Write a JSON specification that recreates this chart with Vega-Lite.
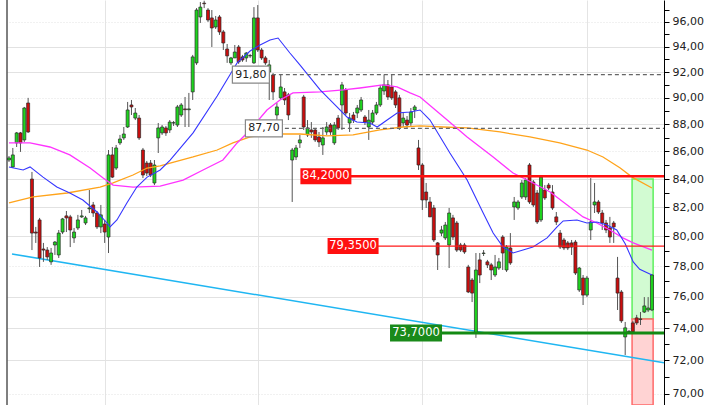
{
  "$schema": "https://vega.github.io/schema/vega-lite/v6.json",
  "width": 657,
  "height": 405,
  "autosize": {"type": "none"},
  "padding": {"left": 7, "top": 0, "right": 56, "bottom": 0},
  "background": "white",
  "config": {"view": {"stroke": null}, "font": "DejaVu Sans", "axis": {"titleOpacity": 0}},
  "datasets": {
    "candles": [
      {"i":1,"o":85.37,"h":85.66,"l":85.23,"c":85.52},
      {"i":2,"o":84.87,"h":86.25,"l":84.79,"c":85.74},
      {"i":3,"o":86.62,"h":87.43,"l":86.32,"c":87.36},
      {"i":4,"o":87.36,"h":87.43,"l":85.96,"c":86.62},
      {"i":5,"o":86.84,"h":89.31,"l":86.69,"c":89.23},
      {"i":6,"o":89.61,"h":90.00,"l":87.36,"c":87.43},
      {"i":7,"o":84.00,"h":84.51,"l":79.08,"c":80.23},
      {"i":8,"o":80.30,"h":80.65,"l":79.56,"c":80.23},
      {"i":9,"o":81.13,"h":81.27,"l":77.95,"c":78.55},
      {"i":10,"o":79.15,"h":79.56,"l":78.29,"c":79.08},
      {"i":11,"o":79.08,"h":79.28,"l":78.42,"c":78.62},
      {"i":12,"o":78.29,"h":79.22,"l":78.09,"c":78.88},
      {"i":13,"o":79.42,"h":79.69,"l":78.75,"c":79.62},
      {"i":14,"o":78.75,"h":80.44,"l":78.55,"c":80.23},
      {"i":15,"o":80.30,"h":81.27,"l":80.16,"c":81.20},
      {"i":16,"o":81.41,"h":81.75,"l":80.30,"c":81.27},
      {"i":17,"o":81.34,"h":81.48,"l":79.28,"c":80.44},
      {"i":18,"o":79.90,"h":80.58,"l":79.56,"c":80.30},
      {"i":19,"o":80.58,"h":81.48,"l":80.44,"c":81.13},
      {"i":20,"o":81.34,"h":81.82,"l":81.27,"c":81.41},
      {"i":21,"o":80.92,"h":81.41,"l":80.78,"c":81.27},
      {"i":22,"o":81.90,"h":83.22,"l":81.61,"c":81.96},
      {"i":23,"o":82.17,"h":82.38,"l":81.34,"c":81.61},
      {"i":24,"o":81.61,"h":81.75,"l":80.51,"c":80.65},
      {"i":25,"o":80.65,"h":82.17,"l":80.23,"c":81.48},
      {"i":26,"o":80.85,"h":81.13,"l":79.56,"c":80.30},
      {"i":27,"o":79.96,"h":86.10,"l":78.88,"c":85.74},
      {"i":28,"o":85.74,"h":86.32,"l":84.07,"c":84.14},
      {"i":29,"o":84.79,"h":86.47,"l":84.65,"c":86.25},
      {"i":30,"o":86.62,"h":87.21,"l":86.47,"c":86.91},
      {"i":31,"o":86.99,"h":87.80,"l":86.84,"c":87.28},
      {"i":32,"o":87.80,"h":89.69,"l":87.73,"c":89.08},
      {"i":33,"o":89.46,"h":89.84,"l":88.70,"c":89.31},
      {"i":34,"o":88.47,"h":89.23,"l":88.32,"c":88.85},
      {"i":35,"o":88.47,"h":88.70,"l":86.84,"c":86.99},
      {"i":36,"o":86.10,"h":86.25,"l":84.07,"c":84.29},
      {"i":37,"o":85.15,"h":85.30,"l":84.22,"c":84.43},
      {"i":38,"o":85.15,"h":85.37,"l":84.14,"c":84.29},
      {"i":39,"o":83.72,"h":85.37,"l":83.57,"c":85.01},
      {"i":40,"o":86.99,"h":88.10,"l":85.88,"c":87.73},
      {"i":41,"o":87.36,"h":87.95,"l":87.21,"c":87.80},
      {"i":42,"o":87.73,"h":87.88,"l":87.14,"c":87.36},
      {"i":43,"o":87.58,"h":88.32,"l":87.36,"c":88.17},
      {"i":44,"o":88.10,"h":88.25,"l":87.88,"c":88.12},
      {"i":45,"o":87.95,"h":89.46,"l":87.80,"c":89.31},
      {"i":46,"o":88.70,"h":89.61,"l":88.55,"c":89.46},
      {"i":47,"o":89.16,"h":90.07,"l":87.80,"c":89.10},
      {"i":48,"o":89.10,"h":90.38,"l":87.80,"c":89.16},
      {"i":49,"o":90.46,"h":93.35,"l":89.84,"c":93.19},
      {"i":50,"o":92.72,"h":97.14,"l":92.56,"c":96.98},
      {"i":51,"o":96.41,"h":97.64,"l":95.92,"c":97.22},
      {"i":52,"o":97.55,"h":97.75,"l":97.14,"c":97.50},
      {"i":53,"o":96.98,"h":97.14,"l":96.00,"c":96.16},
      {"i":54,"o":96.33,"h":96.98,"l":93.98,"c":95.51},
      {"i":55,"o":95.59,"h":96.49,"l":95.43,"c":96.16},
      {"i":56,"o":96.41,"h":96.57,"l":94.95,"c":95.19},
      {"i":57,"o":95.19,"h":95.35,"l":93.74,"c":94.30},
      {"i":58,"o":93.82,"h":94.22,"l":92.72,"c":93.27},
      {"i":59,"o":92.72,"h":93.19,"l":92.56,"c":93.11},
      {"i":60,"o":93.11,"h":94.14,"l":93.11,"c":93.58},
      {"i":61,"o":93.98,"h":94.14,"l":92.64,"c":92.80},
      {"i":62,"o":93.19,"h":93.35,"l":92.80,"c":92.95},
      {"i":63,"o":93.11,"h":93.58,"l":92.80,"c":93.50},
      {"i":64,"o":93.27,"h":93.43,"l":93.11,"c":93.30},
      {"i":65,"o":92.72,"h":97.22,"l":92.64,"c":96.33},
      {"i":66,"o":96.33,"h":97.39,"l":93.58,"c":93.74},
      {"i":67,"o":93.74,"h":93.90,"l":92.95,"c":93.11},
      {"i":68,"o":93.11,"h":93.27,"l":92.56,"c":92.72},
      {"i":69,"o":92.00,"h":92.95,"l":89.84,"c":92.56},
      {"i":70,"o":91.77,"h":91.92,"l":89.84,"c":90.46},
      {"i":71,"o":88.70,"h":89.61,"l":88.32,"c":89.31},
      {"i":72,"o":90.00,"h":91.80,"l":89.84,"c":90.84},
      {"i":73,"o":90.46,"h":90.76,"l":89.46,"c":89.84},
      {"i":74,"o":90.23,"h":90.38,"l":88.32,"c":88.70},
      {"i":75,"o":85.37,"h":86.25,"l":82.38,"c":86.10},
      {"i":76,"o":85.59,"h":86.47,"l":85.37,"c":86.25},
      {"i":77,"o":86.62,"h":87.21,"l":86.25,"c":86.84},
      {"i":78,"o":90.07,"h":90.23,"l":87.58,"c":87.80},
      {"i":79,"o":87.21,"h":88.32,"l":87.06,"c":87.73},
      {"i":80,"o":87.58,"h":88.17,"l":86.99,"c":87.43},
      {"i":81,"o":87.58,"h":87.73,"l":86.69,"c":86.84},
      {"i":82,"o":87.06,"h":87.43,"l":86.32,"c":86.69},
      {"i":83,"o":86.47,"h":87.80,"l":85.74,"c":86.99},
      {"i":84,"o":87.43,"h":88.17,"l":87.21,"c":87.80},
      {"i":85,"o":87.95,"h":88.10,"l":87.21,"c":87.43},
      {"i":86,"o":86.62,"h":88.17,"l":86.47,"c":87.95},
      {"i":87,"o":88.47,"h":88.70,"l":87.58,"c":87.73},
      {"i":88,"o":89.46,"h":91.23,"l":87.58,"c":91.00},
      {"i":89,"o":90.61,"h":90.76,"l":88.70,"c":88.85},
      {"i":90,"o":88.10,"h":88.85,"l":87.43,"c":88.47},
      {"i":91,"o":88.70,"h":88.93,"l":88.10,"c":88.32},
      {"i":92,"o":88.85,"h":89.46,"l":88.47,"c":89.23},
      {"i":93,"o":89.08,"h":90.07,"l":88.93,"c":89.84},
      {"i":94,"o":88.55,"h":88.70,"l":87.95,"c":88.17},
      {"i":95,"o":87.80,"h":89.08,"l":86.84,"c":88.32},
      {"i":96,"o":88.17,"h":89.08,"l":88.02,"c":88.85},
      {"i":97,"o":88.85,"h":89.69,"l":88.70,"c":89.46},
      {"i":98,"o":89.46,"h":91.00,"l":89.31,"c":90.76},
      {"i":99,"o":90.53,"h":91.80,"l":90.23,"c":91.00},
      {"i":100,"o":91.00,"h":91.38,"l":89.84,"c":90.07},
      {"i":101,"o":90.84,"h":91.80,"l":89.84,"c":90.00},
      {"i":102,"o":90.46,"h":90.61,"l":89.23,"c":89.46},
      {"i":103,"o":90.00,"h":90.23,"l":87.58,"c":87.73},
      {"i":104,"o":88.10,"h":88.93,"l":87.80,"c":88.47},
      {"i":105,"o":88.32,"h":88.62,"l":87.73,"c":87.95},
      {"i":106,"o":88.10,"h":89.23,"l":87.88,"c":88.93},
      {"i":107,"o":89.08,"h":89.46,"l":88.47,"c":89.31},
      {"i":108,"o":86.25,"h":86.84,"l":84.65,"c":85.01},
      {"i":109,"o":85.01,"h":85.15,"l":81.82,"c":82.52},
      {"i":110,"o":83.08,"h":83.72,"l":81.96,"c":82.52},
      {"i":111,"o":82.38,"h":82.73,"l":81.34,"c":81.34},
      {"i":112,"o":81.96,"h":82.17,"l":79.62,"c":79.76},
      {"i":113,"o":79.56,"h":79.62,"l":77.75,"c":78.75},
      {"i":114,"o":80.23,"h":80.72,"l":80.02,"c":80.44},
      {"i":115,"o":79.90,"h":80.99,"l":79.76,"c":80.78},
      {"i":116,"o":79.42,"h":81.96,"l":77.88,"c":81.61},
      {"i":117,"o":81.27,"h":81.48,"l":79.76,"c":79.96},
      {"i":118,"o":80.92,"h":81.06,"l":78.95,"c":79.08},
      {"i":119,"o":79.42,"h":79.56,"l":78.95,"c":79.08},
      {"i":120,"o":79.42,"h":79.56,"l":78.82,"c":78.95},
      {"i":121,"o":77.95,"h":78.09,"l":76.24,"c":76.31},
      {"i":122,"o":77.09,"h":77.22,"l":75.66,"c":76.24},
      {"i":123,"o":73.70,"h":78.88,"l":73.39,"c":77.75},
      {"i":124,"o":78.42,"h":78.88,"l":76.89,"c":77.42},
      {"i":125,"o":78.85,"h":79.08,"l":78.68,"c":78.88},
      {"i":126,"o":78.29,"h":78.42,"l":77.88,"c":78.09},
      {"i":127,"o":78.09,"h":78.22,"l":77.09,"c":77.75},
      {"i":128,"o":77.42,"h":78.75,"l":77.29,"c":77.95},
      {"i":129,"o":77.88,"h":78.55,"l":77.75,"c":78.29},
      {"i":130,"o":79.96,"h":80.09,"l":77.75,"c":78.88},
      {"i":131,"o":77.75,"h":79.42,"l":77.62,"c":79.28},
      {"i":132,"o":79.22,"h":80.23,"l":78.09,"c":78.22},
      {"i":133,"o":82.03,"h":82.73,"l":81.13,"c":82.38},
      {"i":134,"o":81.96,"h":82.52,"l":81.82,"c":82.38},
      {"i":135,"o":82.73,"h":83.93,"l":82.59,"c":83.72},
      {"i":136,"o":82.73,"h":84.07,"l":82.52,"c":83.93},
      {"i":137,"o":85.01,"h":85.15,"l":82.24,"c":82.38},
      {"i":138,"o":83.79,"h":83.93,"l":82.03,"c":82.17},
      {"i":139,"o":83.01,"h":83.22,"l":80.85,"c":80.99},
      {"i":140,"o":81.13,"h":84.29,"l":80.99,"c":84.14},
      {"i":141,"o":83.22,"h":83.57,"l":82.52,"c":82.66},
      {"i":142,"o":83.57,"h":83.72,"l":83.22,"c":83.36},
      {"i":143,"o":83.08,"h":83.57,"l":81.82,"c":81.96},
      {"i":144,"o":81.34,"h":81.68,"l":80.78,"c":80.99},
      {"i":145,"o":80.23,"h":80.44,"l":79.15,"c":79.28},
      {"i":146,"o":79.76,"h":79.90,"l":79.08,"c":79.22},
      {"i":147,"o":79.56,"h":79.69,"l":79.08,"c":79.22},
      {"i":148,"o":79.56,"h":79.76,"l":78.75,"c":79.28},
      {"i":149,"o":79.62,"h":79.76,"l":77.42,"c":77.55},
      {"i":150,"o":76.44,"h":77.95,"l":76.31,"c":77.88},
      {"i":151,"o":77.22,"h":77.42,"l":75.47,"c":76.11},
      {"i":152,"o":76.11,"h":77.36,"l":75.98,"c":77.22},
      {"i":153,"o":80.44,"h":84.07,"l":79.76,"c":80.99},
      {"i":154,"o":82.17,"h":83.72,"l":81.61,"c":82.38},
      {"i":155,"o":82.38,"h":82.52,"l":81.54,"c":81.68},
      {"i":156,"o":81.61,"h":81.82,"l":80.44,"c":80.92},
      {"i":157,"o":80.92,"h":81.13,"l":80.23,"c":80.44},
      {"i":158,"o":80.58,"h":81.34,"l":79.56,"c":79.96},
      {"i":159,"o":80.92,"h":81.06,"l":79.56,"c":80.65},
      {"i":160,"o":77.22,"h":78.62,"l":75.15,"c":76.24},
      {"i":161,"o":76.31,"h":76.44,"l":74.33,"c":74.46},
      {"i":162,"o":73.45,"h":74.39,"l":72.33,"c":74.02},
      {"i":163,"o":73.77,"h":73.89,"l":73.64,"c":73.80},
      {"i":164,"o":74.33,"h":74.46,"l":73.64,"c":73.77},
      {"i":165,"o":74.65,"h":74.84,"l":74.20,"c":74.33},
      {"i":166,"o":74.55,"h":75.02,"l":74.20,"c":74.58},
      {"i":167,"o":75.02,"h":75.98,"l":74.96,"c":75.41},
      {"i":168,"o":75.15,"h":75.98,"l":75.02,"c":75.28},
      {"i":169,"o":75.15,"h":77.49,"l":75.08,"c":77.42}
    ],
    "maBlue": [
      {"i":1,"v":84.87},{"i":4.7,"v":84.65},{"i":6.5,"v":84.87},{"i":9.9,"v":84.14},{"i":13.5,"v":83.43},
      {"i":16.9,"v":83.01},{"i":20.3,"v":82.52},{"i":24.0,"v":81.68},{"i":26.6,"v":80.92},{"i":27.4,"v":80.65},
      {"i":29.2,"v":81.13},{"i":31.8,"v":82.31},{"i":34.4,"v":83.43},{"i":37.1,"v":84.14},{"i":40.5,"v":84.65},
      {"i":43.1,"v":85.37},{"i":49.1,"v":87.36},{"i":55.4,"v":90.15},{"i":58.7,"v":91.77},{"i":60.6,"v":92.72},
      {"i":64.0,"v":93.66},{"i":66.6,"v":94.14},{"i":69.2,"v":94.54},{"i":71.3,"v":94.70},{"i":74.4,"v":93.50},
      {"i":77.0,"v":92.56},{"i":82.3,"v":90.61},{"i":86.7,"v":89.31},{"i":89.3,"v":88.55},{"i":91.9,"v":88.17},
      {"i":95.3,"v":88.10},{"i":97.2,"v":87.80},{"i":99.8,"v":88.32},{"i":102.4,"v":88.85},{"i":105.8,"v":88.93},
      {"i":108.4,"v":89.08},{"i":111.0,"v":88.32},{"i":116.2,"v":85.88},{"i":120.7,"v":83.93},{"i":124.9,"v":81.61},
      {"i":127.5,"v":80.23},{"i":130.1,"v":79.28},{"i":132.7,"v":78.88},{"i":135.3,"v":79.08},{"i":137.9,"v":79.28},
      {"i":141.6,"v":79.90},{"i":144.2,"v":80.65},{"i":145.8,"v":81.06},{"i":149.4,"v":81.13},{"i":152.0,"v":80.92},
      {"i":154.6,"v":80.99},{"i":157.2,"v":80.78},{"i":159.8,"v":80.44},{"i":162.0,"v":79.50},{"i":164.1,"v":78.29},
      {"i":165.8,"v":77.80},{"i":169.0,"v":77.42}
    ],
    "maPink": [
      {"i":1,"v":86.62},{"i":6.5,"v":86.62},{"i":11.7,"v":86.32},{"i":16.9,"v":85.74},{"i":22.2,"v":84.79},
      {"i":25.6,"v":84.07},{"i":28.2,"v":83.57},{"i":33.4,"v":83.43},{"i":40.5,"v":83.50},{"i":46.5,"v":83.93},
      {"i":51.7,"v":84.65},{"i":56.9,"v":85.37},{"i":60.6,"v":86.62},{"i":64.0,"v":87.58},{"i":68.4,"v":89.08},
      {"i":71.8,"v":89.84},{"i":75.2,"v":90.38},{"i":82.3,"v":90.46},{"i":88.3,"v":90.61},{"i":92.7,"v":90.76},
      {"i":98.7,"v":91.00},{"i":102.4,"v":90.84},{"i":105.8,"v":90.38},{"i":108.4,"v":90.07},{"i":115.5,"v":88.32},
      {"i":120.7,"v":87.06},{"i":127.5,"v":85.59},{"i":132.7,"v":84.43},{"i":136.4,"v":83.93},{"i":142.4,"v":83.08},
      {"i":145.8,"v":82.38},{"i":151.0,"v":81.34},{"i":154.6,"v":80.92},{"i":158.0,"v":80.44},{"i":161.4,"v":79.90},
      {"i":164.1,"v":79.56},{"i":169.0,"v":79.08}
    ],
    "maOrange": [
      {"i":1,"v":82.31},{"i":7.3,"v":82.73},{"i":16.2,"v":83.01},{"i":24.8,"v":83.43},{"i":28.2,"v":83.72},
      {"i":33.4,"v":84.29},{"i":37.1,"v":84.79},{"i":40.5,"v":84.94},{"i":43.1,"v":85.15},{"i":49.1,"v":85.59},
      {"i":55.4,"v":86.10},{"i":59.5,"v":86.62},{"i":64.0,"v":87.06},{"i":69.2,"v":87.28},{"i":77.0,"v":87.28},
      {"i":84.1,"v":87.14},{"i":90.9,"v":87.21},{"i":97.9,"v":87.58},{"i":103.9,"v":87.80},{"i":108.4,"v":87.88},
      {"i":114.4,"v":87.80},{"i":120.7,"v":87.73},{"i":129.3,"v":87.43},{"i":137.1,"v":87.06},{"i":144.9,"v":86.62},
      {"i":152.0,"v":86.10},{"i":156.2,"v":85.59},{"i":160.7,"v":84.79},{"i":163.8,"v":84.14},{"i":169.0,"v":83.36}
    ]
  },
  "layer": [
    {
      "data": {"values": [{"i0": 163.8, "i1": 169.3, "lo": 74.58, "hi": 84.0}]},
      "mark": {"type": "rect", "fill": "#d2fbd2", "stroke": "#5ef05e", "strokeWidth": 1.5},
      "encoding": {
        "x": {"field": "i0", "type": "quantitative", "title": null,
              "scale": {"type": "linear", "domain": [0.48, 172.14], "nice": false, "zero": false, "padding": 0},
              "axis": {"values": [26, 66, 109, 152], "grid": true, "gridColor": "#e4e4e4", "labels": false, "ticks": false, "domain": false, "title": null}},
        "x2": {"field": "i1"},
        "y": {"field": "lo", "type": "quantitative", "title": null,
              "scale": {"type": "log", "domain": [69.32, 97.81], "nice": false, "zero": false, "padding": 0},
              "axis": {"orient": "right", "title": null,
                       "values": [70,71,72,73,74,75,76,77,78,79,80,81,82,83,84,85,86,87,88,89,90,91,92,93,94,95,96,97,98],
                       "labelExpr": "datum.value % 2 == 0 ? replace(format(datum.value, '.2f'), '.', ',') : ''",
                       "labelOverlap": false, "labelBound": false, "labelFlush": false,
                       "labelFont": "DejaVu Sans", "labelFontSize": 11, "labelColor": "#222222", "labelPadding": 3,
                       "tickSize": 5, "tickColor": "#000000", "domainColor": "#000000", "domainWidth": 1,
                       "grid": true, "gridColor": "#e2e2e2",
                       "gridOpacity": {"condition": {"test": "datum.value % 2 == 1", "value": 0}, "value": 1},
                       "gridDash": {"condition": {"test": "indexof([70,78,86,90,96,98], datum.value) >= 0", "value": [1, 2]}, "value": []}}},
        "y2": {"field": "hi"}
      }
    },
    {
      "data": {"values": [{"i0": 163.8, "i1": 169.3, "lo": 69.32, "hi": 74.58}]},
      "mark": {"type": "rect", "fill": "#ffd3d3", "stroke": "#ff6a6a", "strokeWidth": 1.5},
      "encoding": {
        "x": {"field": "i0", "type": "quantitative", "title": null},
        "x2": {"field": "i1"},
        "y": {"field": "lo", "type": "quantitative", "title": null},
        "y2": {"field": "hi"}
      }
    },
    {
      "data": {"values": [{"x": 0.48}]},
      "mark": {"type": "rule", "color": "#000000", "strokeWidth": 1},
      "encoding": {"x": {"field": "x", "type": "quantitative", "title": null}}
    },
    {
      "data": {"values": [{"i0": 1.78, "v0": 78.82, "i1": 172.14, "v1": 71.85}]},
      "mark": {"type": "rule", "color": "#1fb6f2", "strokeWidth": 1.5},
      "encoding": {
        "x": {"field": "i0", "type": "quantitative", "title": null},
        "x2": {"field": "i1"},
        "y": {"field": "v0", "type": "quantitative", "title": null},
        "y2": {"field": "v1"}
      }
    },
    {
      "data": {"name": "candles"},
      "mark": {"type": "rule", "color": "#555555", "strokeWidth": 1},
      "encoding": {
        "x": {"field": "i", "type": "quantitative", "title": null},
        "y": {"field": "l", "type": "quantitative", "title": null},
        "y2": {"field": "h"}
      }
    },
    {
      "data": {"name": "candles"},
      "mark": {"type": "bar", "width": 3, "stroke": "#2a2a2a", "strokeWidth": 0.7},
      "encoding": {
        "x": {"field": "i", "type": "quantitative", "title": null},
        "y": {"field": "o", "type": "quantitative", "title": null},
        "y2": {"field": "c"},
        "color": {"condition": {"test": "datum.c >= datum.o", "value": "#1ed41e"}, "value": "#cc0d0d"}
      }
    },
    {
      "data": {"name": "maOrange"},
      "mark": {"type": "line", "color": "#ffa31a", "strokeWidth": 1.3},
      "encoding": {
        "x": {"field": "i", "type": "quantitative", "title": null},
        "y": {"field": "v", "type": "quantitative", "title": null}
      }
    },
    {
      "data": {"name": "maPink"},
      "mark": {"type": "line", "color": "#ff33ff", "strokeWidth": 1.3},
      "encoding": {
        "x": {"field": "i", "type": "quantitative", "title": null},
        "y": {"field": "v", "type": "quantitative", "title": null}
      }
    },
    {
      "data": {"name": "maBlue"},
      "mark": {"type": "line", "color": "#3535ff", "strokeWidth": 1.1},
      "encoding": {
        "x": {"field": "i", "type": "quantitative", "title": null},
        "y": {"field": "v", "type": "quantitative", "title": null}
      }
    },
    {
      "data": {"values": [{"i0": 64.2, "i1": 172.14, "v": 91.8}, {"i0": 67.6, "i1": 172.14, "v": 87.7}]},
      "mark": {"type": "rule", "color": "#666666", "strokeWidth": 1.2, "strokeDash": [4, 3]},
      "encoding": {
        "x": {"field": "i0", "type": "quantitative", "title": null},
        "x2": {"field": "i1"},
        "y": {"field": "v", "type": "quantitative", "title": null}
      }
    },
    {
      "data": {"values": [{"i0": 83.8, "i1": 172.14, "v": 84.2}]},
      "mark": {"type": "rule", "color": "#ff0f0f", "strokeWidth": 2.3},
      "encoding": {
        "x": {"field": "i0", "type": "quantitative", "title": null},
        "x2": {"field": "i1"},
        "y": {"field": "v", "type": "quantitative", "title": null}
      }
    },
    {
      "data": {"values": [{"i0": 90.9, "i1": 172.14, "v": 79.35}]},
      "mark": {"type": "rule", "color": "#ff1a1a", "strokeWidth": 1.3},
      "encoding": {
        "x": {"field": "i0", "type": "quantitative", "title": null},
        "x2": {"field": "i1"},
        "y": {"field": "v", "type": "quantitative", "title": null}
      }
    },
    {
      "data": {"values": [{"i0": 107.35, "i1": 172.14, "v": 73.7}]},
      "mark": {"type": "rule", "color": "#138a13", "strokeWidth": 3},
      "encoding": {
        "x": {"field": "i0", "type": "quantitative", "title": null},
        "x2": {"field": "i1"},
        "y": {"field": "v", "type": "quantitative", "title": null}
      }
    },
    {
      "data": {"values": [{"i0": 64.2, "v": 91.8, "t": "91,80"}, {"i0": 67.6, "v": 87.7, "t": "87,70"}]},
      "mark": {"type": "rect", "width": 37, "height": 17, "fill": "#ffffff", "stroke": "#888888", "strokeWidth": 1.2},
      "encoding": {"x": {"field": "i0", "type": "quantitative", "title": null}, "y": {"field": "v", "type": "quantitative", "title": null}}
    },
    {
      "data": {"values": [{"i0": 64.2, "v": 91.8, "t": "91,80"}, {"i0": 67.6, "v": 87.7, "t": "87,70"}]},
      "mark": {"type": "text", "font": "DejaVu Sans", "fontSize": 11, "color": "#222222", "align": "center", "baseline": "middle"},
      "encoding": {"x": {"field": "i0", "type": "quantitative", "title": null}, "y": {"field": "v", "type": "quantitative", "title": null}, "text": {"field": "t"}}
    },
    {
      "data": {"values": [{"i0": 83.8, "v": 84.2, "t": "84,2000"}, {"i0": 90.9, "v": 79.35, "t": "79,3500"}]},
      "mark": {"type": "rect", "width": 51, "height": 16, "fill": "#ff1010"},
      "encoding": {"x": {"field": "i0", "type": "quantitative", "title": null}, "y": {"field": "v", "type": "quantitative", "title": null}}
    },
    {
      "data": {"values": [{"i0": 83.8, "v": 84.2, "t": "84,2000"}, {"i0": 90.9, "v": 79.35, "t": "79,3500"}]},
      "mark": {"type": "text", "font": "DejaVu Sans", "fontSize": 11.5, "color": "#ffffff", "align": "center", "baseline": "middle"},
      "encoding": {"x": {"field": "i0", "type": "quantitative", "title": null}, "y": {"field": "v", "type": "quantitative", "title": null}, "text": {"field": "t"}}
    },
    {
      "data": {"values": [{"i0": 107.35, "v": 73.7, "t": "73,7000"}]},
      "mark": {"type": "rect", "width": 52, "height": 17, "fill": "#1a8a1a"},
      "encoding": {"x": {"field": "i0", "type": "quantitative", "title": null}, "y": {"field": "v", "type": "quantitative", "title": null}}
    },
    {
      "data": {"values": [{"i0": 107.35, "v": 73.7, "t": "73,7000"}]},
      "mark": {"type": "text", "font": "DejaVu Sans", "fontSize": 11.5, "color": "#ffffff", "align": "center", "baseline": "middle"},
      "encoding": {"x": {"field": "i0", "type": "quantitative", "title": null}, "y": {"field": "v", "type": "quantitative", "title": null}, "text": {"field": "t"}}
    }
  ]
}
